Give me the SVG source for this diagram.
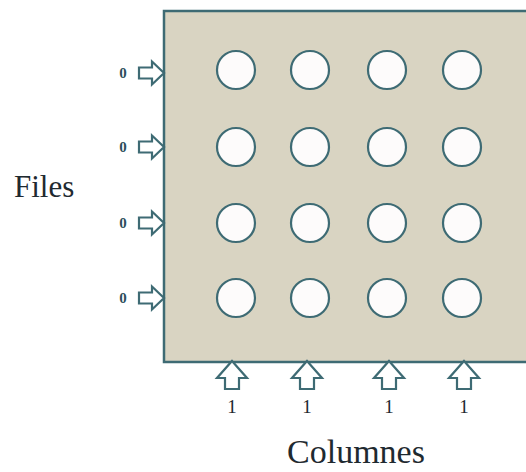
<svg xmlns="http://www.w3.org/2000/svg" width="526" height="472" viewBox="0 0 526 472">
  <style>
    .panel { fill: #d9d4c2; stroke: #3e6b74; stroke-width: 2.5; }
    .hole { fill: #fdfbfb; stroke: #3e6b74; stroke-width: 2.2; }
    .arrow { fill: #ffffff; stroke: #3e6b74; stroke-width: 2.2; stroke-linejoin: miter; }
    .lbl { font-family: "Liberation Serif", "Times New Roman", serif; fill: #1f2a30; }
    .bit0 { font-size: 15px; font-weight: bold; fill: #2e4e5c; }
    .bit1 { font-size: 19px; }
    .title { font-size: 31px; }
  </style>
  <defs>
    <!-- hollow block arrow pointing right, tip at origin -->
    <path id="arrowRight" d="M-25,-5.5 L-12,-5.5 L-12,-11.5 L0,0 L-12,11.5 L-12,5.5 L-25,5.5 Z"/>
    <!-- hollow block arrow pointing up, tip at origin -->
    <path id="arrowUp" d="M0,0 L15,17 L7,17 L7,28 L-7,28 L-7,17 L-15,17 Z"/>
  </defs>

  <g id="panel">
    <rect class="panel" x="164" y="11" width="370" height="351"/>
  </g>

  <g id="holes">
    <circle class="hole" cx="236" cy="70" r="19"/>
    <circle class="hole" cx="310" cy="70" r="19"/>
    <circle class="hole" cx="387" cy="70" r="19"/>
    <circle class="hole" cx="462" cy="70" r="19"/>
    <circle class="hole" cx="236" cy="147" r="19"/>
    <circle class="hole" cx="310" cy="147" r="19"/>
    <circle class="hole" cx="387" cy="147" r="19"/>
    <circle class="hole" cx="462" cy="147" r="19"/>
    <circle class="hole" cx="236" cy="223" r="19"/>
    <circle class="hole" cx="310" cy="223" r="19"/>
    <circle class="hole" cx="387" cy="223" r="19"/>
    <circle class="hole" cx="462" cy="223" r="19"/>
    <circle class="hole" cx="236" cy="298" r="19"/>
    <circle class="hole" cx="310" cy="298" r="19"/>
    <circle class="hole" cx="387" cy="298" r="19"/>
    <circle class="hole" cx="462" cy="298" r="19"/>
  </g>

  <g id="connectors">
    <!-- row inputs -->
    <use href="#arrowRight" class="arrow" transform="translate(164,73)"/>
    <use href="#arrowRight" class="arrow" transform="translate(164,147)"/>
    <use href="#arrowRight" class="arrow" transform="translate(164,223)"/>
    <use href="#arrowRight" class="arrow" transform="translate(164,298)"/>
    <!-- column inputs -->
    <use href="#arrowUp" class="arrow" transform="translate(232,361)"/>
    <use href="#arrowUp" class="arrow" transform="translate(307,361)"/>
    <use href="#arrowUp" class="arrow" transform="translate(389,361)"/>
    <use href="#arrowUp" class="arrow" transform="translate(464,361)"/>
  </g>

  <g id="row-values">
    <text class="lbl bit0" x="123" y="78" text-anchor="middle">0</text>
    <text class="lbl bit0" x="123" y="152" text-anchor="middle">0</text>
    <text class="lbl bit0" x="123" y="228" text-anchor="middle">0</text>
    <text class="lbl bit0" x="123" y="303" text-anchor="middle">0</text>
  </g>

  <g id="column-values">
    <text class="lbl bit1" x="232" y="413" text-anchor="middle">1</text>
    <text class="lbl bit1" x="307" y="413" text-anchor="middle">1</text>
    <text class="lbl bit1" x="389" y="413" text-anchor="middle">1</text>
    <text class="lbl bit1" x="464" y="413" text-anchor="middle">1</text>
  </g>

  <g id="files-label">
    <text class="lbl title" x="14" y="197">Files</text>
  </g>
  <g id="columnes-label">
    <text class="lbl title" x="356" y="463" text-anchor="middle" style="font-size:34px">Columnes</text>
  </g>
</svg>
